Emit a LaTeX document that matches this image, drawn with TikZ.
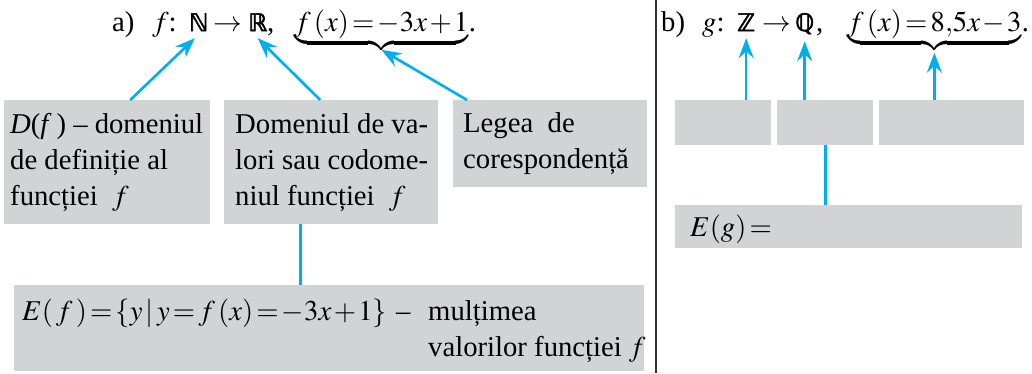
\documentclass[tikz,border=0pt]{standalone}
\usepackage{mathptmx}
\usepackage[no-math]{fontspec}
\setmainfont{Liberation Serif}
\newfontfamily\dvs{DejaVu Sans}[Scale=0.84,FakeBold=2.5]
\usetikzlibrary{arrows.meta,calc}
\definecolor{ccyan}{RGB}{0,174,239}
\definecolor{cgray}{RGB}{209,211,212}
\definecolor{cdiv}{RGB}{50,50,50}
\newcommand{\bbN}{\mbox{\dvs ℕ}}
\newcommand{\bbR}{\mbox{\dvs ℝ}}
\newcommand{\bbZ}{\mbox{\dvs ℤ}}
\newcommand{\bbQ}{\mbox{\dvs ℚ}}
\newcommand{\tightmath}{\thickmuskip=2mu plus 1mu\medmuskip=1.5mu plus 1mu\relax}
\begin{document}
\begin{tikzpicture}[x=1pt,y=-1pt,
  every node/.style={font=\fontsize{28.7}{36}\selectfont},
  gbox/.style={fill=cgray, draw=none, inner sep=0pt, anchor=north west},
  txt/.style={inner sep=0pt, anchor=base west, align=left},
  conn/.style={draw=ccyan, line width=2.6pt},
  arr/.style={conn, -{Stealth[length=20pt,width=15pt,inset=7pt]}},
]
\useasboundingbox (0,0) rectangle (1032,373);
% divider
\coordinate (dtop) at (656,0);
\coordinate (dbot) at (656,373);
\draw[cdiv, line width=2pt] (dtop) -- (dbot);

% ---- part a) boxes
\node[gbox, minimum width=206pt, minimum height=124pt] (b1) at (4,100) {};
\node[gbox, minimum width=214pt, minimum height=124pt] (b2) at (224,100) {};
\node[gbox, minimum width=194pt, minimum height=87pt] (b3) at (453,100) {};
\node[gbox, minimum width=630pt, minimum height=86pt] (bE) at (14,285) {};

% multi-line nodes: base anchor = baseline of last line
\node[txt] (t1) at (10,205) {\textit{D}(\textit{f}\,) – domeniul\\de definiție al\\funcției \ $f$};
\node[txt] (t2) at (235,205) {Domeniul de va-\\lori sau codome-\\niul funcției \ $f$};
\node[txt] (t3) at (463,168) {Legea \ de\\corespondență};
\node[txt] (tE) at (22,320) {\tightmath$E(\,f\,)=\{y\mid y=f\,(x)=-3x+1\}$};
\node[txt] (tEd) at (396,320) {–};
\node[txt] (tEm) at (428,356) {mulțimea\\valorilor funcției $f$};

% title a)
\node[txt] (ta) at (112,31) {a)};
\node[txt] (tf) at (152,31) {$f$:};
\node[txt] (tN) at (189,31) {\bbN};
\node[txt] (tto) at (213,31) {$\to$};
\node[txt] (tR) at (248,31) {\bbR};
\node[txt] (tc) at (267,31) {,};
\node[txt] (tlaw) at (294,31) {\tightmath$\underbrace{f\,(x)=-3x+1}$};
\node[txt] (tp) at (tlaw.base east) {.};

\draw[arr] ([xshift=23pt]b1.north) -- ([xshift=-4pt,yshift=-7pt]tN.south);
\draw[arr] ([xshift=-11pt]b2.north) -- ([yshift=-7pt]tR.south);
\draw[arr] ([xshift=14pt]b3.north west) -- ([yshift=-2pt]tlaw.south);
\draw[conn] ([xshift=-31pt]b2.south) -- ([xshift=-31pt]b2.south |- bE.north);

% ---- part b)
\node[gbox, minimum width=96pt, minimum height=45pt] (c1) at (675,100) {};
\node[gbox, minimum width=96pt, minimum height=45pt] (c2) at (777,100) {};
\node[gbox, minimum width=145pt, minimum height=45pt] (c3) at (879,100) {};
\node[gbox, minimum width=347pt, minimum height=43pt] (cE) at (675,205) {};
\node[txt] (tEg) at (690,236) {\tightmath$E(g)=$};

\node[txt] (tb) at (661,31) {b)};
\node[txt] (tg) at (702,31) {$g$:};
\node[txt] (tZ) at (737,31) {\bbZ};
\node[txt] (tto2) at (762,31) {$\to$};
\node[txt] (tQ) at (795,31) {\bbQ};
\node[txt] (tc2) at (816,31) {,};
\node[txt] (tlaw2) at (847,31) {\tightmath$\underbrace{f\,(x)=8{,}5x-3}$};
\node[txt] (tp2) at (tlaw2.base east) {.};

\draw[arr] (tZ.south |- c1.north) -- ([yshift=-7pt]tZ.south);
\draw[arr] (tQ.south |- c2.north) -- ([yshift=-7pt]tQ.south);
\draw[arr] (tlaw2.south |- c3.north) -- ([yshift=-5pt]tlaw2.south);
\draw[conn] (c2.south) -- (c2.south |- cE.north);
\end{tikzpicture}
\end{document}
